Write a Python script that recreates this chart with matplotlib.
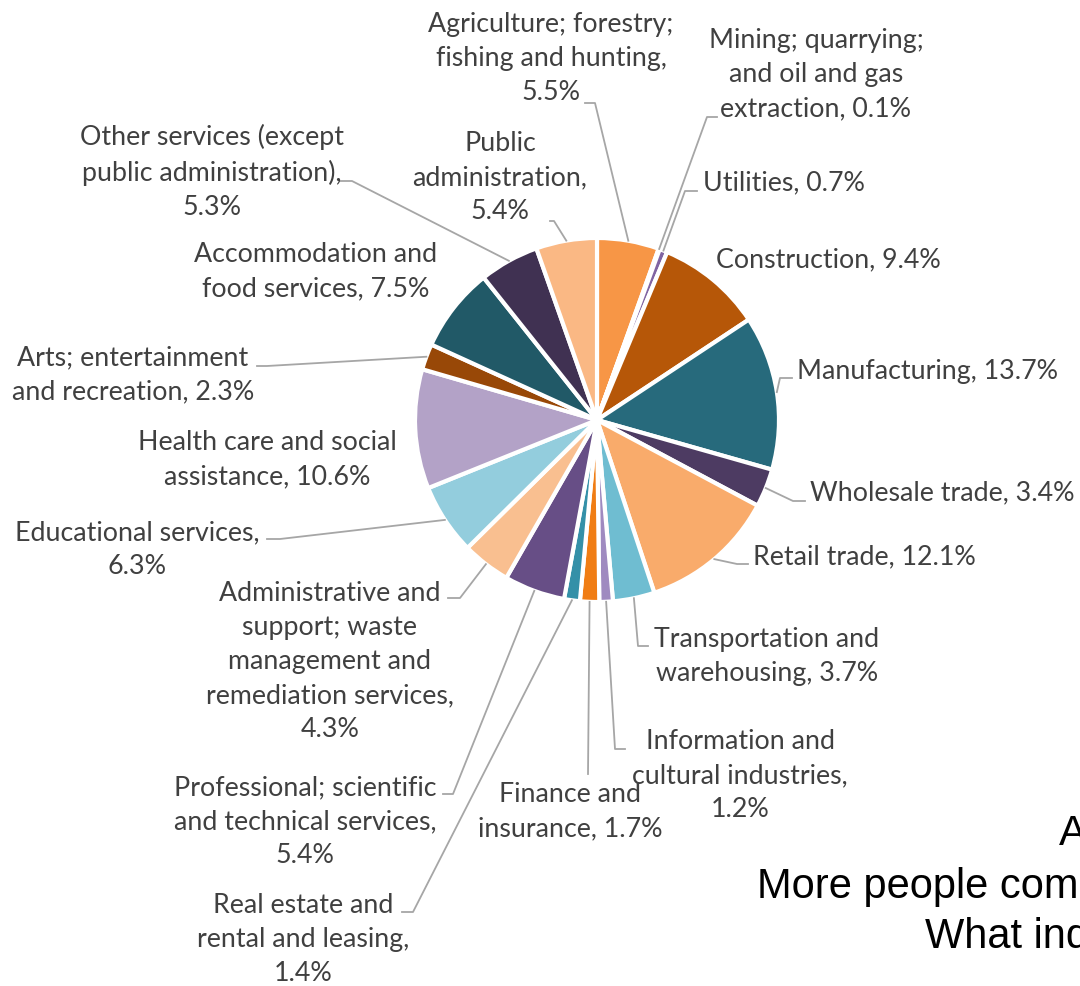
import matplotlib.pyplot as plt
import numpy as np

W, H = 1080, 987

industries = [
    "Agriculture; forestry;\nfishing and hunting,",
    "Mining; quarrying;\nand oil and gas\nextraction,",
    "Utilities,",
    "Construction,",
    "Manufacturing,",
    "Wholesale trade,",
    "Retail trade,",
    "Transportation and\nwarehousing,",
    "Information and\ncultural industries,",
    "Finance and\ninsurance,",
    "Real estate and\nrental and leasing,",
    "Professional; scientific\nand technical services,",
    "Administrative and\nsupport; waste\nmanagement and\nremediation services,",
    "Educational services,",
    "Health care and social\nassistance,",
    "Arts; entertainment\nand recreation,",
    "Accommodation and\nfood services,",
    "Other services (except\npublic administration),",
    "Public\nadministration,",
]
shares = [5.5, 0.1, 0.7, 9.4, 13.7, 3.4, 12.1, 3.7, 1.2, 1.7,
          1.4, 5.4, 4.3, 6.3, 10.6, 2.3, 7.5, 5.3, 5.4]
# whether the percentage goes on a new line
pct_newline = [True, False, False, False, False, False, False, False, True, False,
               True, True, True, True, False, False, False, True, True]

colors = ["#F79646", "#4F81BD", "#8064A2", "#B65708", "#276A7C", "#4D3B62",
          "#F9AB6B", "#6FBDD1", "#9F8AC0", "#F07D14", "#3490A8", "#674E86",
          "#F9BF90", "#93CDDD", "#B3A2C7", "#984807", "#215967", "#403152",
          "#FAB884"]

# label layout in pixels (x, y, ha), leader anchor (x, y), elbow dx
label_pos = [
    (551, 59, "center"), (816, 75, "center"), (703, 183, "left"),
    (716, 260, "left"), (797, 372, "left"), (810, 493, "left"),
    (753, 557, "left"), (767, 657, "center"), (740, 776, "center"),
    (570, 812, "center"), (303, 940, "center"), (305, 822, "center"),
    (330, 662, "center"), (137, 550, "center"), (267, 460, "center"),
    (133, 375, "center"), (316, 272, "center"), (212, 172, "center"),
    (500, 178, "center"),
]
leaders = [
    ((585, 104), 10), ((717, 118), -10), ((697, 192), -12), None,
    ((792, 379), -12), ((805, 502), -12), ((748, 565), -11), ((648, 647), -10),
    ((625, 750), -10), ((588, 775), 0), ((402, 913), 11), ((443, 795), 10),
    ((448, 599), 12), ((267, 540), 13), None, ((257, 367), 10), None,
    ((340, 182), 12), ((550, 222), 4),
]


def P(x, y):
    return x, H - y


fig = plt.figure(figsize=(W / 100, H / 100), dpi=100)
ax = fig.add_axes([0, 0, 1, 1])

cx, cy, r = 597, 421, 182
wedges, _ = ax.pie(shares, colors=colors, startangle=90, counterclock=False,
                   center=P(cx, cy), radius=r,
                   wedgeprops=dict(edgecolor="white", linewidth=3))
ax.set_xlim(0, W)
ax.set_ylim(0, H)
ax.set_aspect("auto")
ax.axis("off")

font = dict(family="Lato", fontsize=19.3, color="#404040", linespacing=1.45)
for name, val, nl, pos, wdg, ld in zip(industries, shares, pct_newline,
                                       label_pos, wedges, leaders):
    txt = name + ("\n" if nl else " ") + f"{val:.1f}%"
    x, y, ha = pos
    ax.text(*P(x, y), txt, ha=ha, va="center", multialignment="center", **font)
    if ld is None:
        continue
    (lx, ly), dx = ld
    mid = np.deg2rad((wdg.theta1 + wdg.theta2) / 2)
    px = wdg.center[0] + r * np.cos(mid)
    py = wdg.center[1] + r * np.sin(mid)
    ax.plot([lx, lx + dx, px], [H - ly, H - ly, py], color="#A6A6A6", lw=1.3)

title_font = dict(family="Liberation Sans", fontsize=30, color="black")
ax.text(*P(1059, 845), "A", ha="left", va="baseline", **title_font)
ax.text(*P(757, 898), "More people com", ha="left", va="baseline", **title_font)
ax.text(*P(925, 948), "What ind", ha="left", va="baseline", **title_font)

fig.savefig("out.png", dpi=100)
